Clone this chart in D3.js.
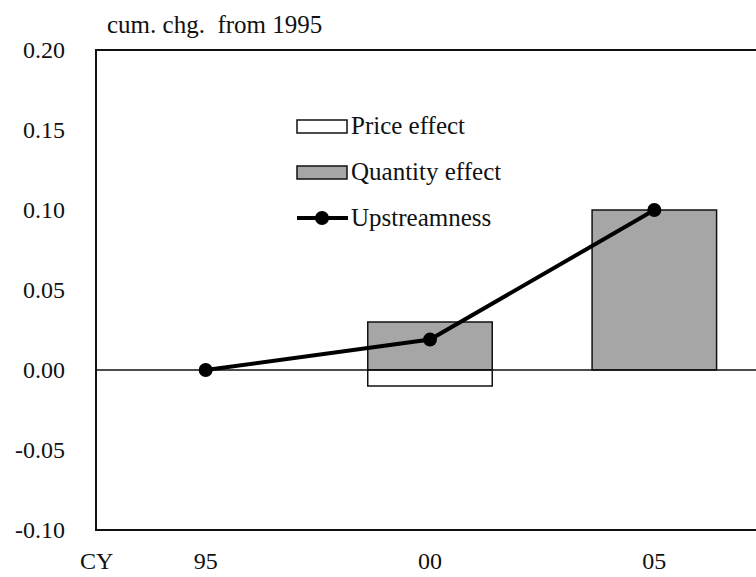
<!DOCTYPE html>
<html>
<head>
<meta charset="utf-8">
<script src="https://cdn.jsdelivr.net/npm/d3@7"></script>
<style>
  body { margin: 0; background: #fff; }
  text { font-family: "Liberation Serif", "Times New Roman", serif; fill: #111; }
</style>
</head>
<body>
<div id="chart"></div>
<script>
// data
var years = ["95", "00", "05"];
var priceEffect = [0, -0.01, 0];
var quantityEffect = [0, 0.03, 0.10];
var upstreamness = [0, 0.019, 0.10];
var yTicks = [-0.10, -0.05, 0.00, 0.05, 0.10, 0.15, 0.20];

var width = 756, height = 577;
var margin = { top: 50, right: -10, bottom: 47, left: 96 };

var svg = d3.select("#chart").append("svg")
    .attr("width", width)
    .attr("height", height);

var y = d3.scaleLinear()
    .domain([-0.10, 0.20])
    .range([height - margin.bottom, margin.top]);

// category centres: 95 ~ 205, 00 ~ 430, 05 ~ 654
var x = d3.scaleBand()
    .domain(years)
    .range([93.5, 766.5])
    .padding(0);

var barW = x.bandwidth() * 0.555;
var cx = function (d) { return x(d) + x.bandwidth() / 2; };

// frame
svg.append("rect")
    .attr("x", margin.left)
    .attr("y", margin.top)
    .attr("width", width - margin.left + 20)
    .attr("height", y(-0.10) - y(0.20))
    .attr("fill", "none")
    .attr("stroke", "#111")
    .attr("stroke-width", 2);

// y axis labels (no tick marks), plain hyphen for negatives
var fmt = d3.format(".2f");
var yAxis = d3.axisLeft(y)
    .tickValues(yTicks)
    .tickSize(0)
    .tickPadding(31)
    .tickFormat(function (d) { return fmt(d).replace("\u2212", "-"); });
var yg = svg.append("g")
    .attr("transform", "translate(" + margin.left + ",0)")
    .call(yAxis);
yg.select(".domain").remove();
yg.selectAll("text")
    .style("font-family", "Liberation Serif, serif")
    .style("font-size", "24px")
    .attr("fill", "#111");

// bars: quantity (positive) and price (negative) stacked around zero
var rows = years.map(function (yr, i) {
    return { year: yr, price: priceEffect[i], quantity: quantityEffect[i], up: upstreamness[i] };
});

var barGroup = svg.append("g");
barGroup.selectAll("rect.q")
    .data(rows.filter(function (d) { return d.quantity !== 0; }))
    .enter().append("rect")
    .attr("class", "q")
    .attr("x", function (d) { return cx(d.year) - barW / 2; })
    .attr("y", function (d) { return y(d.quantity); })
    .attr("width", barW)
    .attr("height", function (d) { return y(0) - y(d.quantity); })
    .attr("fill", "#a6a6a6")
    .attr("stroke", "#111")
    .attr("stroke-width", 1.5);

barGroup.selectAll("rect.p")
    .data(rows.filter(function (d) { return d.price !== 0; }))
    .enter().append("rect")
    .attr("class", "p")
    .attr("x", function (d) { return cx(d.year) - barW / 2; })
    .attr("y", y(0))
    .attr("width", barW)
    .attr("height", function (d) { return y(d.price) - y(0); })
    .attr("fill", "#fff")
    .attr("stroke", "#111")
    .attr("stroke-width", 1.5);

// zero line
svg.append("line")
    .attr("x1", margin.left).attr("x2", width)
    .attr("y1", y(0)).attr("y2", y(0))
    .attr("stroke", "#111")
    .attr("stroke-width", 1.6);

// upstreamness line
var line = d3.line()
    .x(function (d) { return cx(d.year); })
    .y(function (d) { return y(d.up); });

svg.append("path")
    .datum(rows)
    .attr("d", line)
    .attr("fill", "none")
    .attr("stroke", "#000")
    .attr("stroke-width", 4);

svg.selectAll("circle.pt")
    .data(rows)
    .enter().append("circle")
    .attr("class", "pt")
    .attr("cx", function (d) { return cx(d.year); })
    .attr("cy", function (d) { return y(d.up); })
    .attr("r", 7)
    .attr("fill", "#000");

// x labels
svg.append("g").selectAll("text")
    .data(years)
    .enter().append("text")
    .attr("x", function (d) { return cx(d); })
    .attr("y", 569)
    .attr("text-anchor", "middle")
    .style("font-size", "24px")
    .text(function (d) { return d; });

svg.append("text")
    .attr("x", 80)
    .attr("y", 569)
    .style("font-size", "24px")
    .text("CY");

// unit label
svg.append("text")
    .attr("x", 107)
    .attr("y", 33)
    .style("font-size", "25px")
    .style("white-space", "pre")
    .text("cum. chg.  from 1995");

// legend
var legend = svg.append("g").attr("transform", "translate(297,0)");
var legItems = [
    { label: "Price effect", type: "box", fill: "#fff", cy: 126 },
    { label: "Quantity effect", type: "box", fill: "#a6a6a6", cy: 172 },
    { label: "Upstreamness", type: "line", cy: 218 }
];
legItems.forEach(function (it) {
    if (it.type === "box") {
        legend.append("rect")
            .attr("x", 0).attr("y", it.cy - 6)
            .attr("width", 50).attr("height", 13)
            .attr("fill", it.fill)
            .attr("stroke", "#111")
            .attr("stroke-width", 1.5);
    } else {
        legend.append("line")
            .attr("x1", 0).attr("x2", 51)
            .attr("y1", it.cy).attr("y2", it.cy)
            .attr("stroke", "#000").attr("stroke-width", 4);
        legend.append("circle")
            .attr("cx", 25).attr("cy", it.cy).attr("r", 7).attr("fill", "#000");
    }
    legend.append("text")
        .attr("x", 54)
        .attr("y", it.cy + 8)
        .style("font-size", "25px")
        .text(it.label);
});
</script>
</body>
</html>
